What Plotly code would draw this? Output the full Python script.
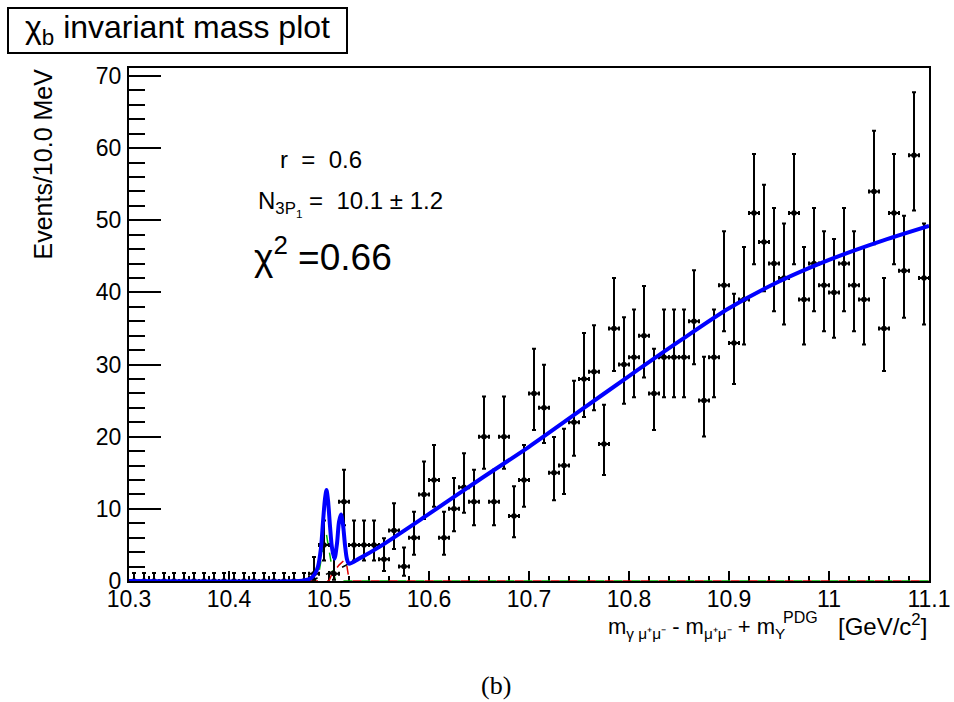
import numpy as np
import plotly.graph_objects as go

# ---------------- data ----------------
X_LOW = 10.3
BIN_WIDTH = 0.01
counts = [0, 0, 0, 0, 0, 0, 0, 0, 0, 0,
          0, 0, 0, 0, 0, 0, 0, 0, 1, 5,
          1, 11, 5, 5, 5, 3, 7, 2, 6, 12,
          14, 6, 10, 13, 11, 20, 11, 20, 9, 14,
          26, 24, 15, 16, 22, 28, 29, 19, 35, 30,
          31, 34, 26, 31, 31, 31, 36, 25, 31, 41,
          33, 39, 51, 47, 44, 42, 51, 39, 44, 41,
          40, 44, 41, 39, 54, 35, 51, 43, 59, 42]
bin_centers = np.round(X_LOW + BIN_WIDTH * (np.arange(len(counts)) + 0.5), 4)

# total fit
fit_x = [10.300, 10.470, 10.476, 10.482, 10.486, 10.489, 10.492, 10.494, 10.496,
         10.4975, 10.499, 10.501, 10.503, 10.5055, 10.508, 10.510, 10.512, 10.514,
         10.516, 10.518, 10.520, 10.530, 10.550, 10.600, 10.650, 10.700, 10.750,
         10.800, 10.850, 10.900, 10.950, 11.000, 11.050, 11.100]
fit_y = [0.0, 0.0, 0.1, 0.4, 1.0, 2.0, 4.6, 8.2, 11.4,
         12.6, 11.2, 7.6, 4.6, 3.1, 5.2, 8.2, 9.2, 7.8,
         5.0, 3.0, 2.4, 3.1, 4.7, 9.3, 14.0, 18.6, 23.5,
         28.4, 33.2, 37.8, 41.5, 44.5, 47.0, 49.2]

# background component (black dashed)
bkg_x = [10.300, 10.478, 10.490, 10.500, 10.510, 10.520, 10.530, 10.550, 10.600,
         10.650, 10.700, 10.750, 10.800, 10.850, 10.900, 10.950, 11.000, 11.050, 11.100]
bkg_y = [0.0, 0.0, 0.5, 1.1, 1.7, 2.4, 3.1, 4.7, 9.3,
         14.0, 18.6, 23.5, 28.4, 33.2, 37.8, 41.5, 44.5, 47.0, 49.2]

# signal components
sig1_x = [10.300, 10.486, 10.490, 10.494, 10.4975, 10.501, 10.504, 10.507, 10.510, 11.100]
sig1_y = [0.0, 0.0, 1.2, 4.5, 6.4, 3.2, 1.0, 0.1, 0.0, 0.0]
sig2_x = [10.300, 10.500, 10.503, 10.510, 10.516, 10.518, 10.520, 10.522, 11.100]
sig2_y = [0.0, 0.0, 1.0, 2.2, 3.0, 2.0, 0.2, 0.0, 0.0]

x_tickvals = [10.3, 10.4, 10.5, 10.6, 10.7, 10.8, 10.9, 11.0, 11.1]
x_ticktext = ["10.3", "10.4", "10.5", "10.6", "10.7", "10.8", "10.9", "11", "11.1"]
y_tickvals = [0, 10, 20, 30, 40, 50, 60, 70]
Y_MAX = 71.1

# Poisson (Gehrels) error bars derived from the counts
cnt = np.array(counts, dtype=float)
err_hi = np.where(cnt > 0, np.sqrt(cnt + 0.75) + 1.0, 1.1)
safe = np.where(cnt > 0, cnt, 1.0)
err_lo = np.where(cnt > 0, cnt - safe * (1 - 1 / (9 * safe) - 1 / (3 * np.sqrt(safe))) ** 3, 0.0)

# ---------------- layout geometry ----------------
W_FIG, H_FIG = 954, 702
L, R, T, B = 129, 929, 68, 581
PW, PH = R - L, B - T

def px(x):
    return (x - L) / PW

def py(y):
    return (B - y) / PH

FONT = "Liberation Sans, Arial, sans-serif"

fig = go.Figure()

fig.add_trace(go.Scatter(x=sig1_x, y=sig1_y, mode="lines",
                         line=dict(color="#00bb00", width=1.5, dash="dash"),
                         hoverinfo="skip", showlegend=False))
fig.add_trace(go.Scatter(x=bkg_x, y=bkg_y, mode="lines",
                         line=dict(color="black", width=1.5, dash="dash", shape="spline", smoothing=0.8),
                         hoverinfo="skip", showlegend=False))
fig.add_trace(go.Scatter(x=sig2_x, y=sig2_y, mode="lines",
                         line=dict(color="#e00000", width=1.5, dash="dash"),
                         hoverinfo="skip", showlegend=False))

fig.add_trace(go.Scatter(
    x=bin_centers, y=counts, mode="markers",
    marker=dict(color="black", size=5.5, symbol="circle"),
    error_x=dict(type="constant", value=BIN_WIDTH / 2, color="black", thickness=2, width=2),
    error_y=dict(type="data", array=err_hi, arrayminus=err_lo, symmetric=False,
                 color="black", thickness=2, width=2),
    showlegend=False))

fig.add_trace(go.Scatter(x=fit_x, y=fit_y, mode="lines",
                         line=dict(color="#0000ff", width=4, shape="spline", smoothing=0.8),
                         hoverinfo="skip", showlegend=False))

fig.update_layout(
    width=W_FIG, height=H_FIG,
    margin=dict(l=L, r=W_FIG - R, t=T, b=H_FIG - B, pad=0, autoexpand=False),
    paper_bgcolor="white", plot_bgcolor="white",
    font=dict(family=FONT, color="black", size=23),
    showlegend=False,
)

fig.update_xaxes(
    range=[X_LOW, 11.1], tickmode="array", tickvals=x_tickvals, ticktext=x_ticktext,
    ticks="inside", ticklen=10, tickwidth=1.5, tickcolor="black",
    minor=dict(dtick=0.02, tick0=10.3, ticks="inside", ticklen=5, tickwidth=1.5, tickcolor="black"),
    showline=True, linecolor="black", linewidth=2, mirror=True,
    showgrid=False, zeroline=False, layer="below traces", automargin=False,
    tickfont=dict(size=23, family=FONT, color="black"), ticklabelstandoff=-4,
)
fig.update_yaxes(
    range=[0, Y_MAX], tickmode="array", tickvals=y_tickvals,
    ticks="inside", ticklen=32, tickwidth=1.5, tickcolor="black",
    minor=dict(dtick=2, tick0=0, ticks="inside", ticklen=16, tickwidth=1.5, tickcolor="black"),
    showline=True, linecolor="black", linewidth=2, mirror=True,
    showgrid=False, zeroline=False, automargin=False,
    tickfont=dict(size=23, family=FONT, color="black"), ticklabelstandoff=1,
)

# title box
fig.add_shape(type="rect", xref="paper", yref="paper",
              x0=px(8), x1=px(347), y0=py(53), y1=py(8),
              line=dict(color="black", width=2), fillcolor="white", layer="above")

ann = []
ann.append(dict(text="χ<sub>b</sub> invariant mass plot", x=px(177), y=py(30),
                font=dict(size=32, family=FONT)))
ann.append(dict(text="Events/10.0 MeV", x=px(43), y=py(67), textangle=-90,
                xanchor="center", yanchor="top", font=dict(size=25, family=FONT)))
ann.append(dict(text="r\u00a0\u00a0=\u00a0\u00a00.6", x=px(321), y=py(159),
                font=dict(size=24, family=FONT)))
ann.append(dict(text="N<sub>3P<sub>1</sub></sub>\u00a0=\u00a0\u00a010.1\u00a0±\u00a01.2",
                x=px(256), y=py(203), xanchor="left", font=dict(size=24, family=FONT)))
ann.append(dict(text="χ<sup>2</sup>\u00a0=0.66", x=px(252), y=py(254), xanchor="left",
                font=dict(size=37, family=FONT)))
# x-axis title pieces
ann.append(dict(text="m<sub>γ μ⁺μ⁻</sub> - m<sub>μ⁺μ⁻</sub> + m<sub>Υ</sub>",
                x=px(606), y=py(628), xanchor="left", font=dict(size=22, family=FONT)))
ann.append(dict(text="PDG", x=px(781), y=py(617), xanchor="left", font=dict(size=16, family=FONT)))
ann.append(dict(text="[GeV/c<sup>2</sup>]", x=px(929), y=py(625), xanchor="right",
                font=dict(size=24, family=FONT)))
ann.append(dict(text="(b)", x=px(496), y=py(685), font=dict(size=26, family="Liberation Serif, serif")))

for a in ann:
    a.setdefault("xanchor", "center")
    a.setdefault("yanchor", "middle")
    fig.add_annotation(xref="paper", yref="paper", showarrow=False, **a)

fig.write_html("out.html")
